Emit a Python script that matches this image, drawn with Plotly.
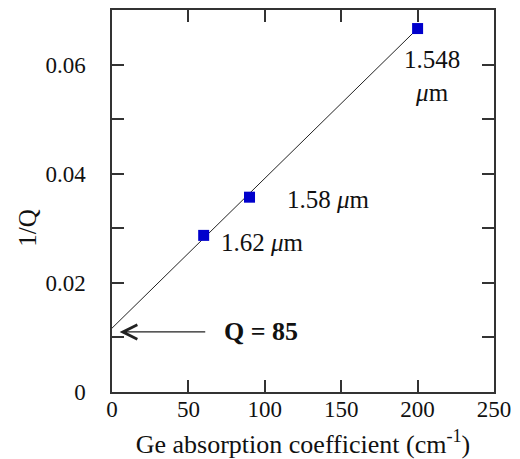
import plotly.graph_objects as go

# Data
absorption = [60, 90, 200]            # Ge absorption coefficient (cm^-1)
inv_q = [0.0287, 0.0357, 0.0666]      # 1/Q
wavelength_labels = ["1.62 <i>μ</i>m", "1.58 <i>μ</i>m", "1.548<br><i>μ</i>m"]
fit_x = [0, 200]
fit_y = [0.0117, 0.0666]
x_ticks = [0, 50, 100, 150, 200, 250]
y_ticks = [0, 0.01, 0.02, 0.03, 0.04, 0.05, 0.06, 0.07]
y_tick_text = ["0", "", "0.02", "", "0.04", "", "0.06", ""]
q_value = 85
arrow_y = 0.011

FONT = "Liberation Serif, Times New Roman, serif"
AX = "#333333"
TXT = "#111111"

fig = go.Figure()
fig.add_trace(go.Scatter(x=fit_x, y=fit_y, mode="lines",
                         line=dict(color="#222222", width=1), showlegend=False))
fig.add_trace(go.Scatter(x=absorption, y=inv_q, mode="markers",
                         marker=dict(symbol="square", size=11, color="#0000cc",
                                     line=dict(width=0)),
                         showlegend=False))

# wavelength labels
fig.add_annotation(x=absorption[0], y=inv_q[0], text=wavelength_labels[0],
                   xanchor="left", yanchor="middle", xshift=15, yshift=-7,
                   showarrow=False, font=dict(size=25, family=FONT, color=TXT))
fig.add_annotation(x=absorption[1], y=inv_q[1], text=wavelength_labels[1],
                   xanchor="left", yanchor="middle", xshift=35, yshift=-2,
                   showarrow=False, font=dict(size=25, family=FONT, color=TXT))
fig.add_annotation(x=absorption[2], y=inv_q[2], text=wavelength_labels[2],
                   xanchor="center", yanchor="top", xshift=14, yshift=-15,
                   showarrow=False, font=dict(size=25, family=FONT, color=TXT))

# arrow and Q label
fig.add_annotation(x=5, y=arrow_y, ax=62, ay=arrow_y, xref="x", yref="y",
                   axref="x", ayref="y", showarrow=True, arrowhead=5,
                   arrowsize=2.2, arrowwidth=1.3, arrowcolor="#222", text="")
fig.add_annotation(x=72, y=arrow_y, text=f"<b>Q = {q_value}</b>", xanchor="left",
                   yanchor="middle", showarrow=False,
                   font=dict(size=26, family=FONT, color=TXT))

# y title as annotation
fig.add_annotation(x=-0.22, y=0.43, xref="paper", yref="paper", text="1/Q",
                   xanchor="center", yanchor="middle",
                   textangle=-90, showarrow=False,
                   font=dict(size=25, family=FONT, color=TXT))

fig.update_layout(
    width=520, height=459,
    margin=dict(l=112, r=26, t=10, b=67),
    paper_bgcolor="white", plot_bgcolor="white",
    font=dict(family=FONT, size=23, color=TXT),
)
fig.update_xaxes(range=[0, 250], tickvals=x_ticks, ticks="inside", ticklen=12,
                 tickwidth=1.5, tickcolor=AX, showline=True, linecolor=AX,
                 linewidth=1.5, mirror="ticks", showgrid=False, zeroline=False,
                 ticklabelstandoff=-4, automargin=False,
                 title=dict(text="Ge absorption coefficient (cm<sup>-1</sup>)",
                            standoff=16, font=dict(size=26, family=FONT)))
fig.update_yaxes(range=[0, 0.07], tickvals=y_ticks, ticktext=y_tick_text,
                 ticks="inside", ticklen=12, tickwidth=1.5, tickcolor=AX,
                 showline=True, linecolor=AX, linewidth=1.5, mirror="ticks",
                 showgrid=False, zeroline=False, ticklabelstandoff=20,
                 automargin=False)

fig.write_html("out.html", config={"displayModeBar": False},
               post_script="document.body.style.margin='0';document.body.style.overflow='hidden';")
